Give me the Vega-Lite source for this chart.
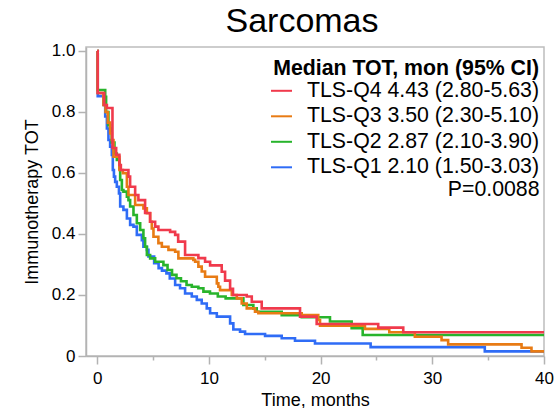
{
"$schema": "https://vega.github.io/schema/vega-lite/v6.json",
"width": 458, "height": 309,
"autosize": {"type": "none"},
"padding": {"left": 86, "top": 47, "right": 13, "bottom": 52},
"background": "white",
"config": {"font": "Liberation Sans", "view": {"stroke": "#bdbdbd", "strokeWidth": 1.5}},
"title": {"text": "Sarcomas", "fontSize": 34, "fontWeight": "normal", "color": "black", "offset": 3, "dx": -13, "anchor": "middle", "font": "Liberation Sans"},
"layer": [
{
"data": {"values": [
{"group":"TLS-Q1 2.10 (1.50-3.03)","t":0,"s":1.0},{"group":"TLS-Q1 2.10 (1.50-3.03)","t":0.05,"s":0.852},{"group":"TLS-Q1 2.10 (1.50-3.03)","t":0.56,"s":0.823},{"group":"TLS-Q1 2.10 (1.50-3.03)","t":0.72,"s":0.785},{"group":"TLS-Q1 2.10 (1.50-3.03)","t":0.87,"s":0.746},{"group":"TLS-Q1 2.10 (1.50-3.03)","t":1.01,"s":0.708},{"group":"TLS-Q1 2.10 (1.50-3.03)","t":1.16,"s":0.686},{"group":"TLS-Q1 2.10 (1.50-3.03)","t":1.31,"s":0.659},{"group":"TLS-Q1 2.10 (1.50-3.03)","t":1.40,"s":0.61},{"group":"TLS-Q1 2.10 (1.50-3.03)","t":1.50,"s":0.588},{"group":"TLS-Q1 2.10 (1.50-3.03)","t":1.61,"s":0.571},{"group":"TLS-Q1 2.10 (1.50-3.03)","t":1.76,"s":0.555},{"group":"TLS-Q1 2.10 (1.50-3.03)","t":1.95,"s":0.533},{"group":"TLS-Q1 2.10 (1.50-3.03)","t":2.06,"s":0.49},{"group":"TLS-Q1 2.10 (1.50-3.03)","t":2.35,"s":0.479},{"group":"TLS-Q1 2.10 (1.50-3.03)","t":2.66,"s":0.451},{"group":"TLS-Q1 2.10 (1.50-3.03)","t":2.95,"s":0.43},{"group":"TLS-Q1 2.10 (1.50-3.03)","t":3.25,"s":0.424},{"group":"TLS-Q1 2.10 (1.50-3.03)","t":3.55,"s":0.397},{"group":"TLS-Q1 2.10 (1.50-3.03)","t":4.00,"s":0.38},{"group":"TLS-Q1 2.10 (1.50-3.03)","t":4.14,"s":0.358},{"group":"TLS-Q1 2.10 (1.50-3.03)","t":4.45,"s":0.348},{"group":"TLS-Q1 2.10 (1.50-3.03)","t":4.59,"s":0.326},{"group":"TLS-Q1 2.10 (1.50-3.03)","t":5.10,"s":0.304},{"group":"TLS-Q1 2.10 (1.50-3.03)","t":5.50,"s":0.288},{"group":"TLS-Q1 2.10 (1.50-3.03)","t":5.80,"s":0.28},{"group":"TLS-Q1 2.10 (1.50-3.03)","t":6.20,"s":0.271},{"group":"TLS-Q1 2.10 (1.50-3.03)","t":6.50,"s":0.254},{"group":"TLS-Q1 2.10 (1.50-3.03)","t":6.98,"s":0.233},{"group":"TLS-Q1 2.10 (1.50-3.03)","t":7.42,"s":0.222},{"group":"TLS-Q1 2.10 (1.50-3.03)","t":7.87,"s":0.205},{"group":"TLS-Q1 2.10 (1.50-3.03)","t":8.47,"s":0.195},{"group":"TLS-Q1 2.10 (1.50-3.03)","t":8.92,"s":0.184},{"group":"TLS-Q1 2.10 (1.50-3.03)","t":9.36,"s":0.172},{"group":"TLS-Q1 2.10 (1.50-3.03)","t":9.81,"s":0.156},{"group":"TLS-Q1 2.10 (1.50-3.03)","t":10.11,"s":0.14},{"group":"TLS-Q1 2.10 (1.50-3.03)","t":10.71,"s":0.129},{"group":"TLS-Q1 2.10 (1.50-3.03)","t":11.90,"s":0.107},{"group":"TLS-Q1 2.10 (1.50-3.03)","t":12.19,"s":0.087},{"group":"TLS-Q1 2.10 (1.50-3.03)","t":12.79,"s":0.08},{"group":"TLS-Q1 2.10 (1.50-3.03)","t":13.24,"s":0.072},{"group":"TLS-Q1 2.10 (1.50-3.03)","t":15.03,"s":0.066},{"group":"TLS-Q1 2.10 (1.50-3.03)","t":16.52,"s":0.058},{"group":"TLS-Q1 2.10 (1.50-3.03)","t":17.71,"s":0.05},{"group":"TLS-Q1 2.10 (1.50-3.03)","t":19.50,"s":0.041},{"group":"TLS-Q1 2.10 (1.50-3.03)","t":24.48,"s":0.029},{"group":"TLS-Q1 2.10 (1.50-3.03)","t":34.70,"s":0.015},{"group":"TLS-Q1 2.10 (1.50-3.03)","t":40,"s":0.015},
{"group":"TLS-Q2 2.87 (2.10-3.90)","t":0,"s":1.0},{"group":"TLS-Q2 2.87 (2.10-3.90)","t":0.05,"s":0.872},{"group":"TLS-Q2 2.87 (2.10-3.90)","t":0.72,"s":0.85},{"group":"TLS-Q2 2.87 (2.10-3.90)","t":0.80,"s":0.80},{"group":"TLS-Q2 2.87 (2.10-3.90)","t":1.01,"s":0.757},{"group":"TLS-Q2 2.87 (2.10-3.90)","t":1.16,"s":0.746},{"group":"TLS-Q2 2.87 (2.10-3.90)","t":1.30,"s":0.70},{"group":"TLS-Q2 2.87 (2.10-3.90)","t":1.55,"s":0.664},{"group":"TLS-Q2 2.87 (2.10-3.90)","t":1.76,"s":0.643},{"group":"TLS-Q2 2.87 (2.10-3.90)","t":1.99,"s":0.615},{"group":"TLS-Q2 2.87 (2.10-3.90)","t":2.06,"s":0.577},{"group":"TLS-Q2 2.87 (2.10-3.90)","t":2.21,"s":0.544},{"group":"TLS-Q2 2.87 (2.10-3.90)","t":2.35,"s":0.539},{"group":"TLS-Q2 2.87 (2.10-3.90)","t":2.66,"s":0.522},{"group":"TLS-Q2 2.87 (2.10-3.90)","t":2.80,"s":0.511},{"group":"TLS-Q2 2.87 (2.10-3.90)","t":2.95,"s":0.49},{"group":"TLS-Q2 2.87 (2.10-3.90)","t":3.25,"s":0.462},{"group":"TLS-Q2 2.87 (2.10-3.90)","t":3.55,"s":0.435},{"group":"TLS-Q2 2.87 (2.10-3.90)","t":3.85,"s":0.413},{"group":"TLS-Q2 2.87 (2.10-3.90)","t":4.14,"s":0.386},{"group":"TLS-Q2 2.87 (2.10-3.90)","t":4.29,"s":0.358},{"group":"TLS-Q2 2.87 (2.10-3.90)","t":4.45,"s":0.331},{"group":"TLS-Q2 2.87 (2.10-3.90)","t":4.74,"s":0.32},{"group":"TLS-Q2 2.87 (2.10-3.90)","t":5.19,"s":0.309},{"group":"TLS-Q2 2.87 (2.10-3.90)","t":5.93,"s":0.298},{"group":"TLS-Q2 2.87 (2.10-3.90)","t":6.30,"s":0.282},{"group":"TLS-Q2 2.87 (2.10-3.90)","t":6.70,"s":0.266},{"group":"TLS-Q2 2.87 (2.10-3.90)","t":7.10,"s":0.255},{"group":"TLS-Q2 2.87 (2.10-3.90)","t":7.50,"s":0.245},{"group":"TLS-Q2 2.87 (2.10-3.90)","t":8.00,"s":0.233},{"group":"TLS-Q2 2.87 (2.10-3.90)","t":8.47,"s":0.227},{"group":"TLS-Q2 2.87 (2.10-3.90)","t":9.06,"s":0.222},{"group":"TLS-Q2 2.87 (2.10-3.90)","t":9.51,"s":0.211},{"group":"TLS-Q2 2.87 (2.10-3.90)","t":10.10,"s":0.205},{"group":"TLS-Q2 2.87 (2.10-3.90)","t":10.80,"s":0.195},{"group":"TLS-Q2 2.87 (2.10-3.90)","t":11.50,"s":0.189},{"group":"TLS-Q2 2.87 (2.10-3.90)","t":13.09,"s":0.167},{"group":"TLS-Q2 2.87 (2.10-3.90)","t":13.98,"s":0.156},{"group":"TLS-Q2 2.87 (2.10-3.90)","t":14.28,"s":0.145},{"group":"TLS-Q2 2.87 (2.10-3.90)","t":16.52,"s":0.134},{"group":"TLS-Q2 2.87 (2.10-3.90)","t":18.31,"s":0.127},{"group":"TLS-Q2 2.87 (2.10-3.90)","t":20.84,"s":0.113},{"group":"TLS-Q2 2.87 (2.10-3.90)","t":22.78,"s":0.091},{"group":"TLS-Q2 2.87 (2.10-3.90)","t":23.77,"s":0.069},{"group":"TLS-Q2 2.87 (2.10-3.90)","t":40,"s":0.069},
{"group":"TLS-Q3 3.50 (2.30-5.10)","t":0,"s":1.0},{"group":"TLS-Q3 3.50 (2.30-5.10)","t":0.05,"s":0.862},{"group":"TLS-Q3 3.50 (2.30-5.10)","t":0.56,"s":0.823},{"group":"TLS-Q3 3.50 (2.30-5.10)","t":0.75,"s":0.80},{"group":"TLS-Q3 3.50 (2.30-5.10)","t":0.95,"s":0.765},{"group":"TLS-Q3 3.50 (2.30-5.10)","t":1.16,"s":0.73},{"group":"TLS-Q3 3.50 (2.30-5.10)","t":1.31,"s":0.708},{"group":"TLS-Q3 3.50 (2.30-5.10)","t":1.46,"s":0.653},{"group":"TLS-Q3 3.50 (2.30-5.10)","t":1.99,"s":0.61},{"group":"TLS-Q3 3.50 (2.30-5.10)","t":2.30,"s":0.599},{"group":"TLS-Q3 3.50 (2.30-5.10)","t":2.66,"s":0.555},{"group":"TLS-Q3 3.50 (2.30-5.10)","t":2.80,"s":0.528},{"group":"TLS-Q3 3.50 (2.30-5.10)","t":3.40,"s":0.495},{"group":"TLS-Q3 3.50 (2.30-5.10)","t":4.14,"s":0.484},{"group":"TLS-Q3 3.50 (2.30-5.10)","t":4.45,"s":0.468},{"group":"TLS-Q3 3.50 (2.30-5.10)","t":4.74,"s":0.44},{"group":"TLS-Q3 3.50 (2.30-5.10)","t":4.89,"s":0.418},{"group":"TLS-Q3 3.50 (2.30-5.10)","t":5.04,"s":0.391},{"group":"TLS-Q3 3.50 (2.30-5.10)","t":5.48,"s":0.37},{"group":"TLS-Q3 3.50 (2.30-5.10)","t":5.79,"s":0.358},{"group":"TLS-Q3 3.50 (2.30-5.10)","t":6.38,"s":0.348},{"group":"TLS-Q3 3.50 (2.30-5.10)","t":6.98,"s":0.342},{"group":"TLS-Q3 3.50 (2.30-5.10)","t":7.27,"s":0.32},{"group":"TLS-Q3 3.50 (2.30-5.10)","t":8.61,"s":0.315},{"group":"TLS-Q3 3.50 (2.30-5.10)","t":8.77,"s":0.309},{"group":"TLS-Q3 3.50 (2.30-5.10)","t":9.06,"s":0.293},{"group":"TLS-Q3 3.50 (2.30-5.10)","t":9.36,"s":0.277},{"group":"TLS-Q3 3.50 (2.30-5.10)","t":9.66,"s":0.26},{"group":"TLS-Q3 3.50 (2.30-5.10)","t":10.71,"s":0.238},{"group":"TLS-Q3 3.50 (2.30-5.10)","t":10.85,"s":0.227},{"group":"TLS-Q3 3.50 (2.30-5.10)","t":11.0,"s":0.216},{"group":"TLS-Q3 3.50 (2.30-5.10)","t":12.05,"s":0.2},{"group":"TLS-Q3 3.50 (2.30-5.10)","t":12.50,"s":0.189},{"group":"TLS-Q3 3.50 (2.30-5.10)","t":12.94,"s":0.172},{"group":"TLS-Q3 3.50 (2.30-5.10)","t":13.39,"s":0.156},{"group":"TLS-Q3 3.50 (2.30-5.10)","t":14.13,"s":0.145},{"group":"TLS-Q3 3.50 (2.30-5.10)","t":14.43,"s":0.14},{"group":"TLS-Q3 3.50 (2.30-5.10)","t":18.31,"s":0.134},{"group":"TLS-Q3 3.50 (2.30-5.10)","t":19.79,"s":0.118},{"group":"TLS-Q3 3.50 (2.30-5.10)","t":19.95,"s":0.099},{"group":"TLS-Q3 3.50 (2.30-5.10)","t":23.97,"s":0.089},{"group":"TLS-Q3 3.50 (2.30-5.10)","t":26.15,"s":0.078},{"group":"TLS-Q3 3.50 (2.30-5.10)","t":28.44,"s":0.063},{"group":"TLS-Q3 3.50 (2.30-5.10)","t":30.83,"s":0.052},{"group":"TLS-Q3 3.50 (2.30-5.10)","t":31.42,"s":0.038},{"group":"TLS-Q3 3.50 (2.30-5.10)","t":37.99,"s":0.027},{"group":"TLS-Q3 3.50 (2.30-5.10)","t":38.88,"s":0.015},{"group":"TLS-Q3 3.50 (2.30-5.10)","t":40,"s":0.015},
{"group":"TLS-Q4 4.43 (2.80-5.63)","t":0,"s":1.0},{"group":"TLS-Q4 4.43 (2.80-5.63)","t":0.05,"s":0.862},{"group":"TLS-Q4 4.43 (2.80-5.63)","t":0.63,"s":0.823},{"group":"TLS-Q4 4.43 (2.80-5.63)","t":0.87,"s":0.813},{"group":"TLS-Q4 4.43 (2.80-5.63)","t":1.37,"s":0.682},{"group":"TLS-Q4 4.43 (2.80-5.63)","t":1.70,"s":0.66},{"group":"TLS-Q4 4.43 (2.80-5.63)","t":1.99,"s":0.626},{"group":"TLS-Q4 4.43 (2.80-5.63)","t":2.12,"s":0.61},{"group":"TLS-Q4 4.43 (2.80-5.63)","t":2.80,"s":0.588},{"group":"TLS-Q4 4.43 (2.80-5.63)","t":2.95,"s":0.555},{"group":"TLS-Q4 4.43 (2.80-5.63)","t":3.40,"s":0.528},{"group":"TLS-Q4 4.43 (2.80-5.63)","t":3.69,"s":0.511},{"group":"TLS-Q4 4.43 (2.80-5.63)","t":4.29,"s":0.469},{"group":"TLS-Q4 4.43 (2.80-5.63)","t":4.74,"s":0.44},{"group":"TLS-Q4 4.43 (2.80-5.63)","t":5.19,"s":0.424},{"group":"TLS-Q4 4.43 (2.80-5.63)","t":5.48,"s":0.413},{"group":"TLS-Q4 4.43 (2.80-5.63)","t":6.53,"s":0.407},{"group":"TLS-Q4 4.43 (2.80-5.63)","t":6.98,"s":0.397},{"group":"TLS-Q4 4.43 (2.80-5.63)","t":7.25,"s":0.375},{"group":"TLS-Q4 4.43 (2.80-5.63)","t":7.87,"s":0.331},{"group":"TLS-Q4 4.43 (2.80-5.63)","t":9.06,"s":0.321},{"group":"TLS-Q4 4.43 (2.80-5.63)","t":9.66,"s":0.309},{"group":"TLS-Q4 4.43 (2.80-5.63)","t":10.11,"s":0.297},{"group":"TLS-Q4 4.43 (2.80-5.63)","t":11.15,"s":0.276},{"group":"TLS-Q4 4.43 (2.80-5.63)","t":11.45,"s":0.247},{"group":"TLS-Q4 4.43 (2.80-5.63)","t":11.90,"s":0.22},{"group":"TLS-Q4 4.43 (2.80-5.63)","t":12.16,"s":0.20},{"group":"TLS-Q4 4.43 (2.80-5.63)","t":13.39,"s":0.195},{"group":"TLS-Q4 4.43 (2.80-5.63)","t":13.84,"s":0.178},{"group":"TLS-Q4 4.43 (2.80-5.63)","t":14.73,"s":0.156},{"group":"TLS-Q4 4.43 (2.80-5.63)","t":18.16,"s":0.129},{"group":"TLS-Q4 4.43 (2.80-5.63)","t":19.65,"s":0.105},{"group":"TLS-Q4 4.43 (2.80-5.63)","t":25.16,"s":0.093},{"group":"TLS-Q4 4.43 (2.80-5.63)","t":27.40,"s":0.078},{"group":"TLS-Q4 4.43 (2.80-5.63)","t":40,"s":0.078}
]},
"mark": {"type": "line", "interpolate": "step-after", "strokeWidth": 2.6},
"encoding": {
"x": {"field": "t", "type": "quantitative", "scale": {"domain": [-1, 40], "nice": false, "zero": false},
 "axis": {"values": [0,5,10,15,20,25,30,35,40], "labelExpr": "datum.value % 10 == 0 ? datum.label : ''",
  "tickSize": {"condition": {"test": "datum.value % 10 == 0", "value": 8}, "value": 4},
  "title": "Time, months", "titleFontSize": 18, "titleFontWeight": "normal", "titleColor": "black",
  "labelFontSize": 17, "labelColor": "black", "labelFlush": false, "labelOverlap": false, "labelPadding": 6, "titlePadding": 5,
  "grid": false, "domainColor": "#b3b3b3", "tickColor": "#b3b3b3", "domainWidth": 1.5, "tickWidth": 1.5}},
"y": {"field": "s", "type": "quantitative", "scale": {"domain": [0, 1.013], "nice": false},
 "axis": {"values": [0,0.1,0.2,0.3,0.4,0.5,0.6,0.7,0.8,0.9,1.0],
  "labelExpr": "datum.value == 0 ? '0' : (round(datum.value*10) % 2 == 0 ? format(datum.value, '.1f') : '')",
  "tickSize": {"condition": {"test": "round(datum.value*10) % 2 == 0", "value": 8}, "value": 4},
  "title": "Immunotherapy TOT", "titleFontSize": 18, "titleFontWeight": "normal", "titleColor": "black",
  "labelFontSize": 17, "labelColor": "black", "labelFlush": false, "labelOverlap": false, "labelPadding": 3, "titlePadding": 10,
  "grid": false, "domainColor": "#b3b3b3", "tickColor": "#b3b3b3", "domainWidth": 1.5, "tickWidth": 1.5}},
"color": {"field": "group", "type": "nominal",
 "scale": {"domain": ["TLS-Q4 4.43 (2.80-5.63)", "TLS-Q3 3.50 (2.30-5.10)", "TLS-Q2 2.87 (2.10-3.90)", "TLS-Q1 2.10 (1.50-3.03)"],
  "range": ["#F03A4C", "#E87B14", "#28B42C", "#2F6CF6"]},
 "legend": {"orient": "none", "legendX": 184, "legendY": 11, "title": "Median TOT, mon (95% CI)", "titleFontSize": 21.3, "titleFontWeight": "bold", "titleColor": "black",
  "labelFontSize": 21.3, "labelColor": "black", "symbolType": "stroke", "symbolSize": 440, "symbolStrokeWidth": 2,
  "padding": 0, "rowPadding": 3.5, "titlePadding": 0, "labelOffset": 14, "titleAnchor": "end", "labelLimit": 400, "titleLimit": 400}}
}
},
{
"data": {"values": [{"label": "P=0.0088", "t": 39.6, "s": 0.543}]},
"mark": {"type": "text", "align": "right", "baseline": "middle", "fontSize": 21.3, "color": "black"},
"encoding": {
"x": {"field": "t", "type": "quantitative"},
"y": {"field": "s", "type": "quantitative"},
"text": {"field": "label"}
}
}
]
}
